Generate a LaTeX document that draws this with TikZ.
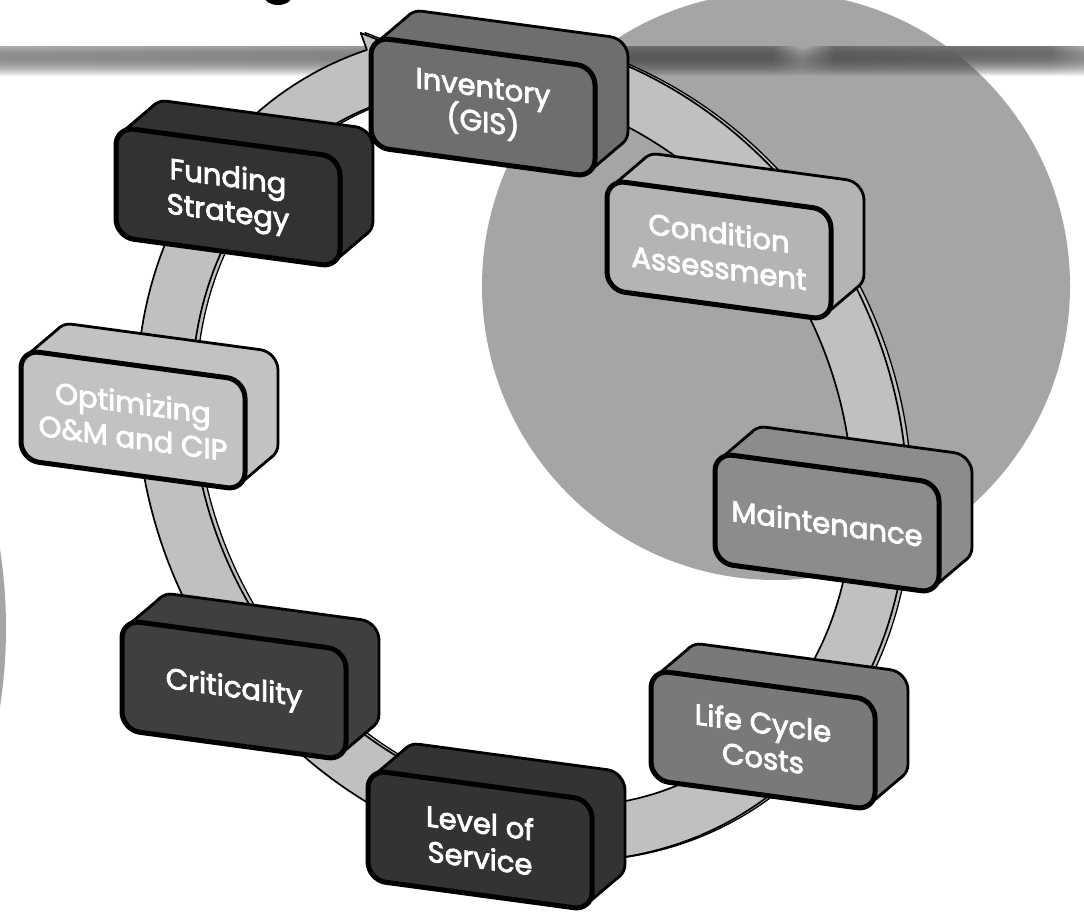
\documentclass[tikz,border=0pt]{standalone}
\usepackage{fontspec}
\newfontfamily\boxfont{Poppins}
\newcommand\fattext{\special{pdf:literal direct 2 Tr 0.8 w}}
\usetikzlibrary{fadings}
\definecolor{bigc}{HTML}{A5A5A5}
\definecolor{ringc}{HTML}{C0C0C0}
\definecolor{cinv}{HTML}{6E6E6E}
\definecolor{cfund}{HTML}{323232}
\definecolor{ccond}{HTML}{B4B4B4}
\definecolor{copt}{HTML}{C2C2C2}
\definecolor{cmaint}{HTML}{8C8C8C}
\definecolor{clife}{HTML}{797979}
\definecolor{clevel}{HTML}{333333}
\definecolor{ccrit}{HTML}{3F3F3F}
\definecolor{bandA}{HTML}{AAAAAA}
\definecolor{bandB}{HTML}{6C6C6C}
\definecolor{bandC}{HTML}{A8A8A8}
\tikzfading[name=fadedown, top color=transparent!0, bottom color=transparent!100]
\tikzset{
  ringband/.style={fill=ringc, draw=black, line width=1.7pt, line join=round},
  boxtext/.style={text=white, align=center, font=\boxfont\fontsize{29}{35}\selectfont\fattext, transform shape, inner sep=0pt},
  bandpart/.style={path fading=fadedown}
}
\newcommand\tdbox[5]{%
\begin{scope}[shift={(#2,#3)}, yslant=-0.135]
  \filldraw[fill=#4, draw=black, line width=2.8pt, rounded corners=18pt] (-79,-87.5) rectangle (145,22.5);
  \fill[#4] (-106.6,-49.8) -- (-73.6,-82.3) -- (139.6,17.3) -- (106.6,49.8) -- cycle;
  \draw[line width=2.8pt, line cap=round] (-106.6,-49.8) -- (-73.6,-82.3) (139.6,17.3) -- (106.6,49.8);
  \filldraw[fill=#4, draw=black, line width=5pt, rounded corners=18pt] (-112,-55) rectangle (112,55);
  \node[boxtext] (#1) at (0,0) {#5};
\end{scope}}
\newcommand\ringarrow{%
  plot[domain=-58:280, samples=220] ({370*cos(\x)},{428*sin(\x)})
  -- ({388*cos(280)},{446*sin(280)})
  -- ({342.5*cos(290)},{400.5*sin(290)})
  -- ({297*cos(280)},{355*sin(280)})
  -- plot[domain=280:-58, samples=220] ({315*cos(\x)},{373*sin(\x)})
  -- cycle}
\begin{document}
\begin{tikzpicture}[x=1pt,y=-1pt]
\useasboundingbox (0,0) rectangle (1084,913);
\fill[white] (0,0) rectangle (1084,913);
% background discs
\fill[bigc] (776,286) circle[radius=294];
\fill[bigc] (-510,628) circle[radius=516];
% top band
\fill[bandpart, left color=bandA, right color=bandA!85!black] (0,47) rectangle (560,76);
\fill[bandpart, left color=bandA!85!black, right color=bandB] (560,47) rectangle (622,76);
\fill[bandpart, left color=bandB, right color=bandB] (622,47) rectangle (772,76);
\fill[bandpart, left color=bandB, right color=bandC] (772,47) rectangle (802,76);
\fill[bandpart, left color=bandC, right color=bandB] (802,47) rectangle (834,76);
\fill[bandpart, left color=bandB, right color=bandB!90!white] (834,47) rectangle (1050,76);
\fill[bandpart, left color=bandB!90!white, right color=bandA] (1050,47) rectangle (1084,76);
\fill[black] (278,-4) ellipse[x radius=14, y radius=9];
% ring arrow
\begin{scope}[shift={(522,447)}, rotate=30]
  \path[ringband, line width=1.3pt] [xshift=4pt, yshift=-2pt] \ringarrow;
  \path[ringband] \ringarrow;
\end{scope}
% boxes
\tdbox{inv}{483}{107}{cinv}{Inventory\\(GIS)}
\tdbox{fund}{228}{197}{cfund}{Funding\\Strategy}
\tdbox{cond}{719}{250}{ccond}{Condition\\Assessment}
\tdbox{opt}{133}{420}{copt}{Optimizing\\O\&M and CIP}
\tdbox{maint}{827}{523}{cmaint}{Maintenance}
\tdbox{crit}{234}{690}{ccrit}{Criticality}
\tdbox{life}{763}{740}{clife}{Life Cycle\\Costs}
\tdbox{level}{480}{840}{clevel}{Level of\\Service}
\end{tikzpicture}
\end{document}
